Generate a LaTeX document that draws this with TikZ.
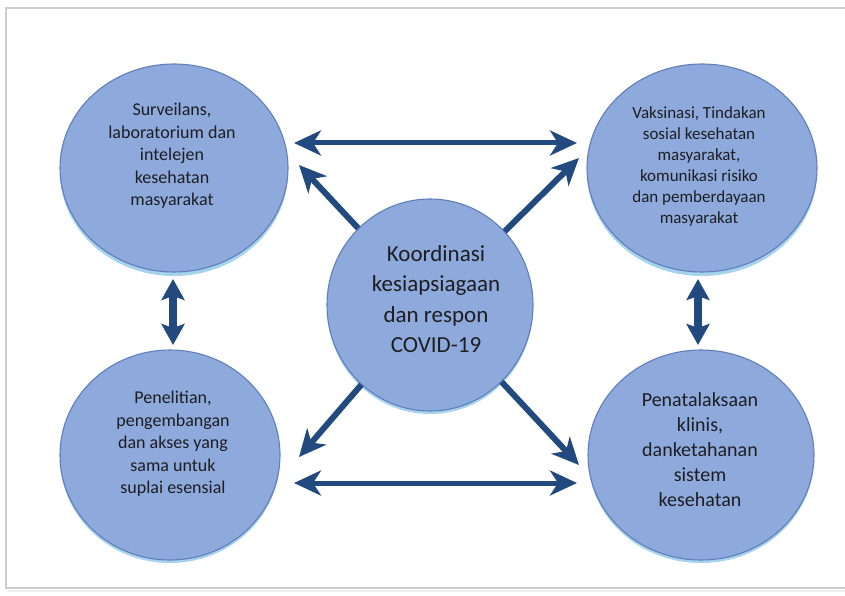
\documentclass[tikz,border=0pt]{standalone}
\usepackage{fontspec}
\setmainfont{Carlito}
\usetikzlibrary{arrows.meta,shapes.geometric}
\definecolor{circfill}{RGB}{142,169,219}
\definecolor{circline}{RGB}{96,126,186}
\definecolor{circglow}{RGB}{165,210,236}
\definecolor{arrowblue}{RGB}{34,74,126}
\definecolor{txtgray}{RGB}{30,30,34}
\definecolor{framegray}{RGB}{205,205,205}
\tikzset{
  bubble/.style={ellipse, draw=circline, line width=1.1pt, fill=circfill, inner sep=0pt},
  glow/.style={ellipse, fill=circglow, inner sep=0pt},
  ctext/.style={align=center, text=txtgray, inner sep=0pt},
  tipA/.tip={Stealth[length=27pt,width=25pt,inset=8pt]},
  tipV/.tip={Stealth[length=21pt,width=23pt,inset=4pt]},
  harrow/.style={draw=arrowblue, line width=5pt, tipA-tipA},
  varrow/.style={draw=arrowblue, line width=8pt, tipV-tipV},
  darrow/.style={draw=arrowblue, line width=6pt, -tipA}
}
\begin{document}
\begin{tikzpicture}[x=1pt,y=-1pt]
\useasboundingbox (0,0) rectangle (845,596);
\fill[white] (0,0) rectangle (845,596);
% frame
\draw[framegray, line width=2pt] (860,8) -- (6,8) -- (6,588) -- (860,588);
\draw[black!6, line width=2pt] (8,590.5) -- (860,590.5);

% glows
\node[glow, minimum width=228pt, minimum height=208pt] at (174,172) {};
\node[glow, minimum width=230pt, minimum height=208pt] at (702,172) {};
\node[glow, minimum width=220pt, minimum height=210pt] at (170,458) {};
\node[glow, minimum width=226pt, minimum height=210pt] at (701,458) {};
\node[glow, minimum width=206pt, minimum height=212pt] at (430,308) {};

% circles
\node[bubble, minimum width=228pt, minimum height=208pt] (tl) at (174,168) {};
\node[bubble, minimum width=230pt, minimum height=208pt] (tr) at (702,168) {};
\node[bubble, minimum width=220pt, minimum height=210pt] (bl) at (170,455) {};
\node[bubble, minimum width=226pt, minimum height=210pt] (br) at (701,455) {};

% free ends of connectors
\coordinate (h1a) at (294,143);
\coordinate (h1b) at (577,143);
\coordinate (h2a) at (294,483);
\coordinate (h2b) at (577,483);
\coordinate (v1a) at (173,279);
\coordinate (v1b) at (173,345);
\coordinate (v2a) at (698,279);
\coordinate (v2b) at (698,345);
\coordinate (dtl) at (299,165);
\coordinate (dtr) at (579,158);
\coordinate (dbl) at (299,457);
\coordinate (dbr) at (579,465);

% centre circle
\node[bubble, minimum width=206pt, minimum height=212pt] (cc) at (430,305) {};

% connectors
\draw[harrow] (h1a) -- (h1b);
\draw[harrow] (h2a) -- (h2b);
\draw[varrow] (v1a) -- (v1b);
\draw[varrow] (v2a) -- (v2b);
\draw[darrow] (cc) -- (dtl);
\draw[darrow] (cc) -- (dtr);
\draw[darrow] (cc) -- (dbl);
\draw[darrow] (cc) -- (dbr);

% texts
\node[ctext, font=\fontsize{18}{22.5}\selectfont] (tlt) at (172,156)
  {Surveilans,\\laboratorium dan\\intelejen\\kesehatan\\masyarakat};
\node[ctext, font=\fontsize{17}{21}\selectfont] (trt) at (699,166)
  {Vaksinasi, Tindakan\\sosial kesehatan\\masyarakat,\\komunikasi risiko\\dan pemberdayaan\\masyarakat};
\node[ctext, font=\fontsize{18}{22.5}\selectfont] (blt) at (173,444)
  {Penelitian,\\pengembangan\\dan akses yang\\sama untuk\\suplai esensial};
\node[ctext, font=\fontsize{20}{25}\selectfont] (brt) at (700,450)
  {Penatalaksaan\\klinis,\\danketahanan\\sistem\\kesehatan};
\node[ctext, font=\fontsize{23}{30.5}\selectfont] (cct) at (436,299)
  {Koordinasi\\kesiapsiagaan\\dan respon\\COVID-19};
\end{tikzpicture}
\end{document}
